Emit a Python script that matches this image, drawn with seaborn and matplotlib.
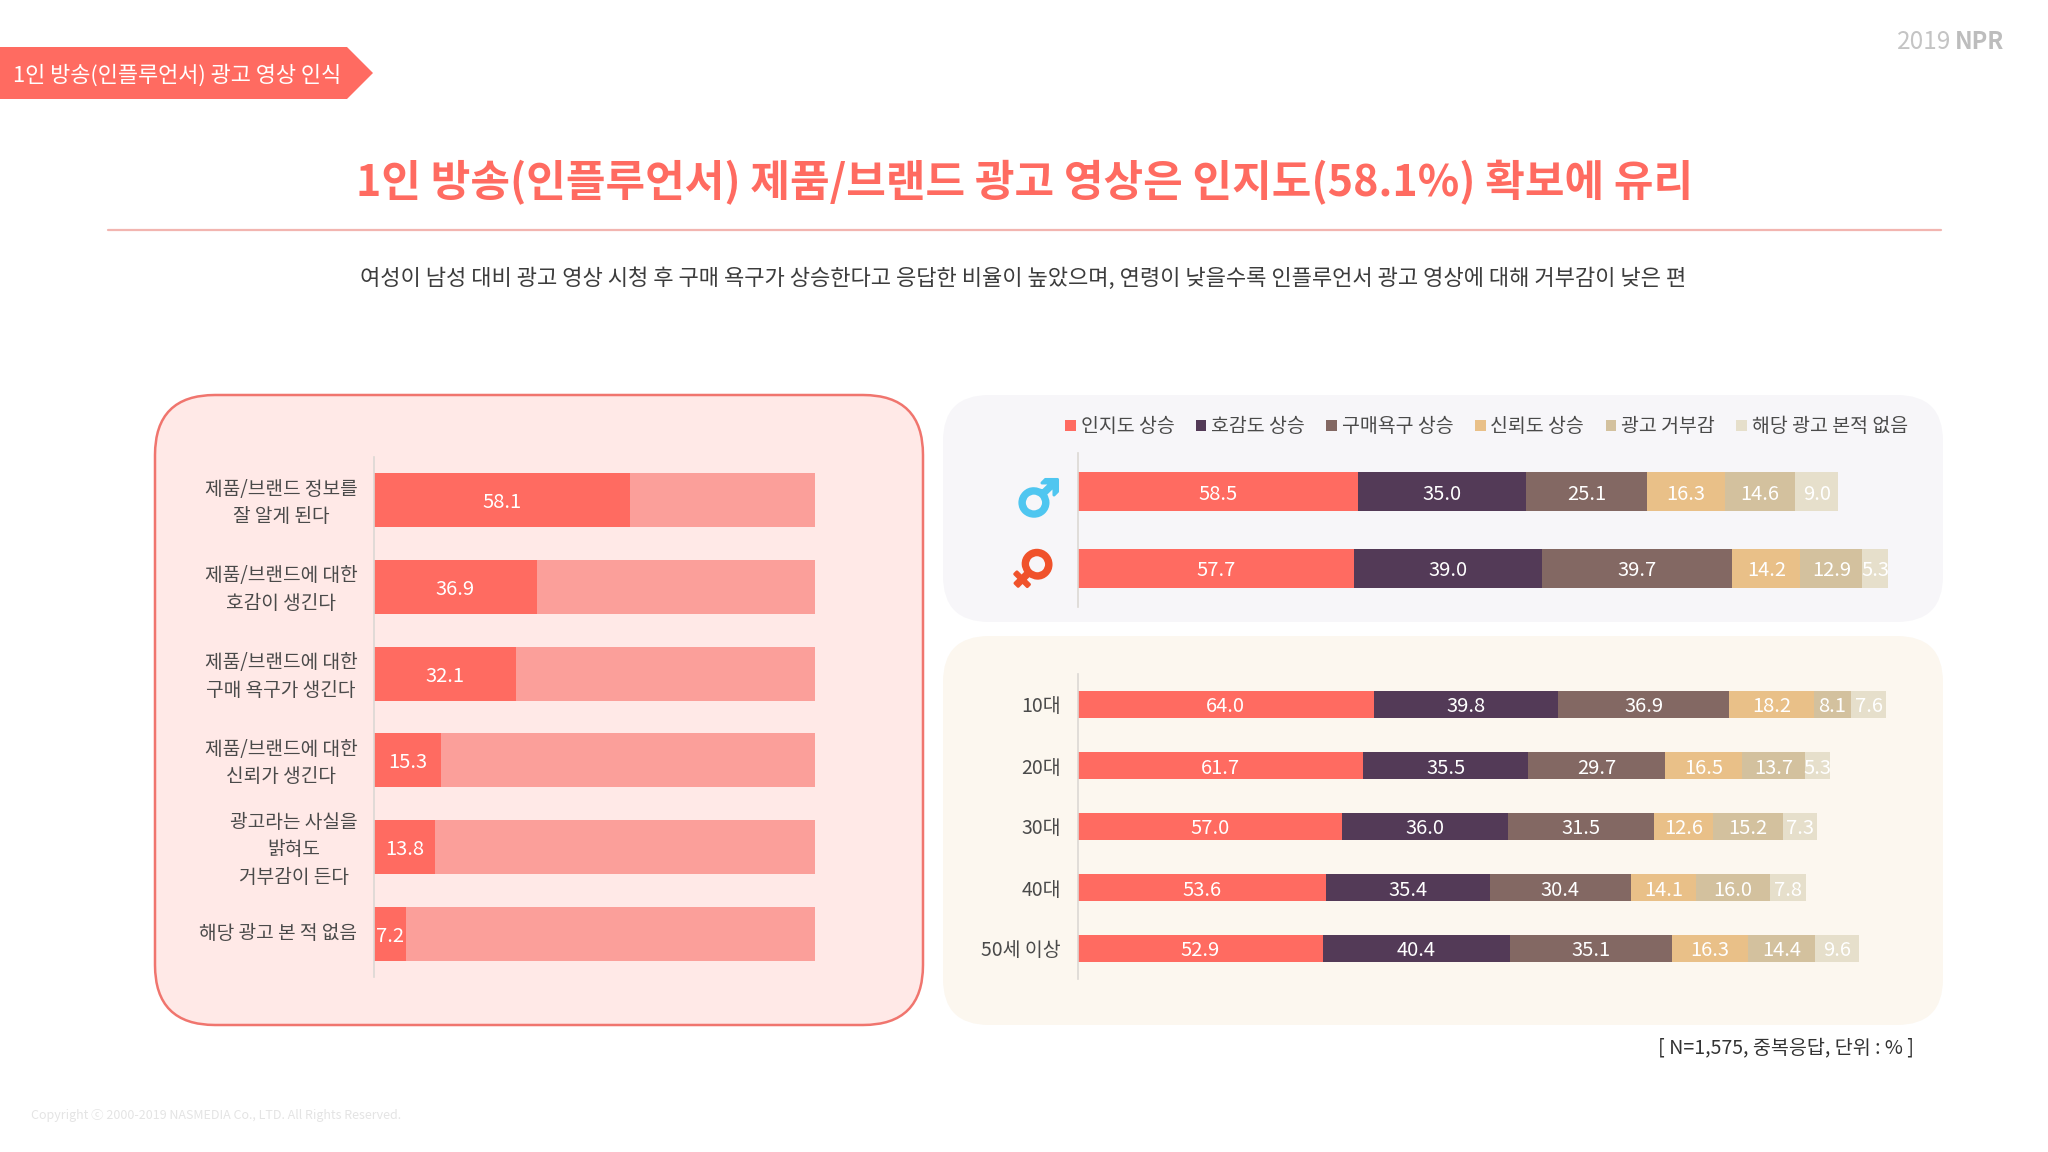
import numpy as np
import matplotlib
matplotlib.use("Agg")
import matplotlib.pyplot as plt
from matplotlib.patches import FancyBboxPatch, Polygon, Patch
from matplotlib.patheffects import withStroke
from matplotlib.transforms import ScaledTranslation
import seaborn as sns

# chart values
awareness_labels = [
    "제품/브랜드 정보를\n잘 알게 된다",
    "제품/브랜드에 대한\n호감이 생긴다",
    "제품/브랜드에 대한\n구매 욕구가 생긴다",
    "제품/브랜드에 대한\n신뢰가 생긴다",
    "광고라는 사실을\n밝혀도\n거부감이 든다",
    "해당 광고 본 적 없음",
]
awareness_values = [58.1, 36.9, 32.1, 15.3, 13.8, 7.2]
awareness_total = [100, 100, 100, 100, 100, 100]

series_names = ["인지도 상승", "호감도 상승", "구매욕구 상승", "신뢰도 상승", "광고 거부감", "해당 광고 본적 없음"]
gender_labels = ["♂", "♀"]
gender_male = [58.5, 35.0, 25.1, 16.3, 14.6, 9.0]
gender_female = [57.7, 39.0, 39.7, 14.2, 12.9, 5.3]

age_labels = ["10대", "20대", "30대", "40대", "50세 이상"]
age_10 = [64.0, 39.8, 36.9, 18.2, 8.1, 7.6]
age_20 = [61.7, 35.5, 29.7, 16.5, 13.7, 5.3]
age_30 = [57.0, 36.0, 31.5, 12.6, 15.2, 7.3]
age_40 = [53.6, 35.4, 30.4, 14.1, 16.0, 7.8]
age_50 = [52.9, 40.4, 35.1, 16.3, 14.4, 9.6]

series_colors = ["#FF6B61", "#533A57", "#836863", "#E9C088", "#D3C19E", "#E6DFCB"]
RED = "#FF6B61"
TEXT = "#4A4A4A"

sns.set_theme(style="white")
plt.rcParams["font.family"] = ["Noto Sans CJK KR", "DejaVu Sans"]

W, H = 2048, 1152
fig = plt.figure(figsize=(W / 100, H / 100), dpi=100, facecolor="white")


def axes_px(x0, y0, x1, y1):
    """Axes from pixel box, y measured from the top"""
    return fig.add_axes([x0 / W, 1 - y1 / H, (x1 - x0) / W, (y1 - y0) / H], facecolor="none", zorder=2)


def nudge_label(tick, dy_px):
    # move a tick label up or down by some pixels
    tick.set_transform(tick.get_transform() + ScaledTranslation(0, dy_px / fig.dpi, fig.dpi_scale_trans))


# page furniture, drawn in pixel coordinates
bg = fig.add_axes([0, 0, 1, 1], zorder=1)
bg.set_xlim(0, W)
bg.set_ylim(H, 0)
bg.axis("off")

bg.add_patch(Polygon([(0, 47), (347, 47), (373, 73), (347, 99), (0, 99)], closed=True, fc=RED, ec="none"))
bg.text(13, 76, "1인 방송(인플루언서) 광고 영상 인식", color="white", fontsize=15.8, va="center", ha="left")
bg.text(1025, 183, "1인 방송(인플루언서) 제품/브랜드 광고 영상은 인지도(58.1%) 확보에 유리",
        color=RED, fontsize=31, fontweight="bold", va="center", ha="center")
bg.plot([108, 1941], [230, 230], color="#F2B5B0", lw=1.6)
bg.text(1023, 279, "여성이 남성 대비 광고 영상 시청 후 구매 욕구가 상승한다고 응답한 비율이 높았으며, "
        "연령이 낮을수록 인플루언서 광고 영상에 대해 거부감이 낮은 편",
        color="#3C3C3C", fontsize=15.9, va="center", ha="center")
bg.text(1897, 42, "2019", color="#C4C4C4", fontsize=17.5, va="center", ha="left")
bg.text(1955, 42, "NPR", color="#BDBDBD", fontsize=17, fontweight="bold", va="center", ha="left")
bg.text(31, 1116, "Copyright ⓒ 2000-2019 NASMEDIA Co., LTD. All Rights Reserved.",
        color="#E4E4E4", fontsize=9, va="center", ha="left")
bg.text(1914, 1048, "[ N=1,575, 중복응답, 단위 : % ]", color="#333333", fontsize=14.1, va="center", ha="right")

panels = [
    (155, 395, 923, 1025, 60, "#FFE9E7", "#F0756E"),
    (943, 395, 1943, 622, 46, "#F7F6F9", "none"),
    (943, 636, 1943, 1025, 46, "#FCF7EF", "none"),
]
for x0, y0, x1, y1, r, fc, ec in panels:
    bg.add_patch(FancyBboxPatch((x0 + r, y0 + r), x1 - x0 - 2 * r, y1 - y0 - 2 * r,
                                boxstyle=f"round,pad={r},rounding_size={r}", fc=fc, ec=ec, lw=1.8))


def style_axis(ax, n, xmax):
    ax.set_xlim(0, xmax)
    ax.set_ylim(n - 0.5, -0.5)
    ax.set_xlabel("")
    ax.set_ylabel("")
    ax.xaxis.set_visible(False)
    sns.despine(ax=ax, left=False, right=True, top=True, bottom=True)
    ax.spines["left"].set_color("#DCD8D4")
    ax.spines["left"].set_linewidth(1.2)
    ax.tick_params(axis="y", length=0)


def stacked_bars(ax, labels, rows, width, xmax, fontsize=14.5):
    """Overlay cumulative bars, longest first, so the segments read as a stack"""
    rows = np.array(rows)
    cumulative = np.cumsum(rows, axis=1)
    for j in range(rows.shape[1] - 1, -1, -1):
        sns.barplot(x=cumulative[:, j], y=labels, color=series_colors[j], saturation=1,
                    width=width, orient="h", ax=ax, errorbar=None, linewidth=0, edgecolor="none")
    style_axis(ax, len(labels), xmax)
    for i in range(rows.shape[0]):
        for j in range(rows.shape[1]):
            ax.text(cumulative[i, j] - rows[i, j] / 2, i, f"{rows[i, j]:.1f}", color="white",
                    fontsize=fontsize, ha="center", va="center_baseline")


# left panel
ax_left = axes_px(374, 457, 815, 977)
sns.barplot(x=awareness_total, y=awareness_labels, color="#FB9F9A", saturation=1, width=0.625,
            orient="h", ax=ax_left, errorbar=None, linewidth=0, edgecolor="none")
sns.barplot(x=awareness_values, y=awareness_labels, color=RED, saturation=1, width=0.625,
            orient="h", ax=ax_left, errorbar=None, linewidth=0, edgecolor="none")
style_axis(ax_left, len(awareness_labels), 100)
for i, v in enumerate(awareness_values):
    ax_left.text(v / 2, i, f"{v:.1f}", color="white", fontsize=14.5, ha="center", va="center_baseline")
ax_left.tick_params(axis="y", pad=12)
for tick in ax_left.get_yticklabels():
    tick.set_fontsize(13.8)
    tick.set_color(TEXT)
    tick.set_multialignment("center")
    tick.set_linespacing(1.4)
    nudge_label(tick, 3)

# gender panel
ax_gender = axes_px(1077.5, 453, 1917.5, 607)
stacked_bars(ax_gender, gender_labels, [gender_male, gender_female], 0.5, 175)
ax_gender.tick_params(axis="y", pad=12)
for tick, col, rot, dy in zip(ax_gender.get_yticklabels(), ["#4FC6F0", "#F0522B"], [0, -45], [-5, 9]):
    tick.set_fontfamily("DejaVu Sans")
    tick.set_fontweight("bold")
    tick.set_fontsize(36)
    tick.set_color(col)
    tick.set_rotation(rot)
    tick.set_path_effects([withStroke(linewidth=2.2, foreground=col)])
    nudge_label(tick, dy)

handles = [Patch(fc=c, ec="none") for c in series_colors]
ax_gender.legend(handles, series_names, ncols=6, frameon=False, loc="center right",
                 bbox_to_anchor=(1908 / W, 1 - 427 / H), bbox_transform=fig.transFigure,
                 fontsize=14, labelcolor=TEXT, handlelength=0.55, handleheight=0.55,
                 handletextpad=0.25, columnspacing=1.1, borderpad=0, borderaxespad=0)

# age panel
ax_age = axes_px(1077.5, 674, 1911.5, 979)
stacked_bars(ax_age, age_labels, [age_10, age_20, age_30, age_40, age_50], 0.45, 180)
ax_age.tick_params(axis="y", pad=12)
for tick in ax_age.get_yticklabels():
    tick.set_fontsize(14)
    tick.set_color(TEXT)

fig.savefig("out.png", dpi=100)
